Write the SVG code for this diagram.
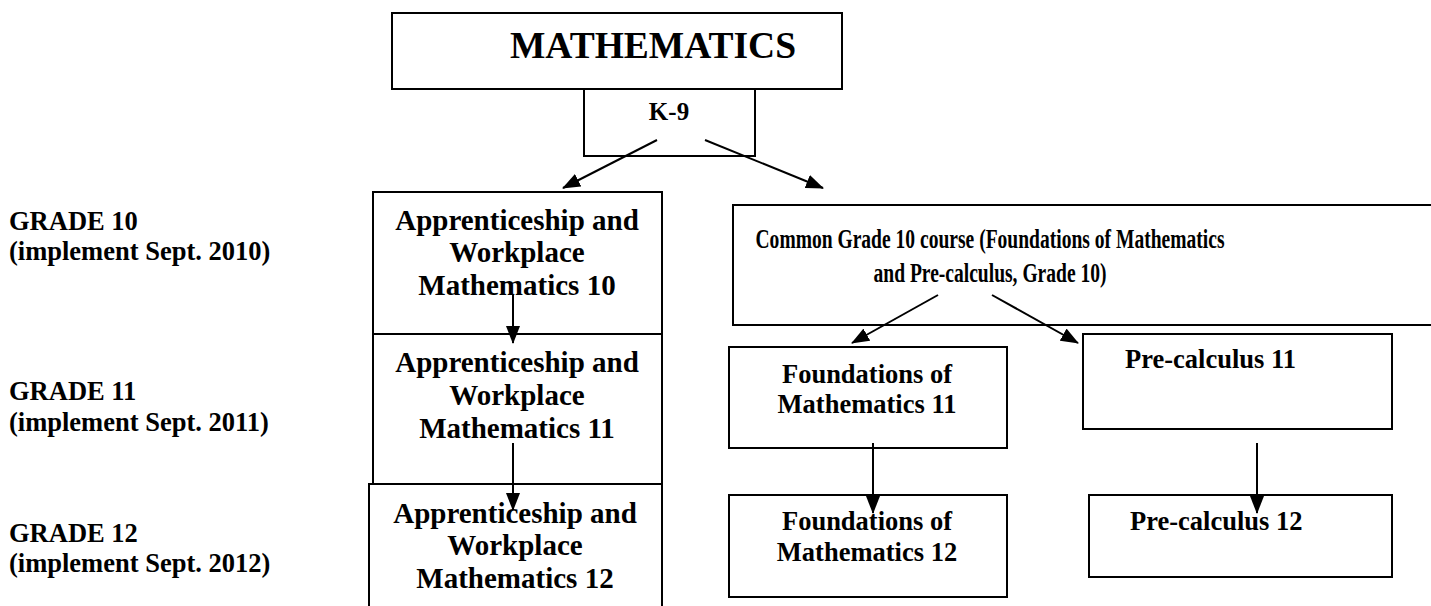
<svg xmlns="http://www.w3.org/2000/svg" width="1431" height="606" viewBox="0 0 1431 606">
<defs>
<style>
.box{fill:#fff;stroke:#000;stroke-width:2}
.t{font-family:'Liberation Serif','Times New Roman',serif;font-weight:700;fill:#000}
.c{text-anchor:middle}
.lbl{font-size:26.5px}
.ap{font-size:29px}
.fd{font-size:26.5px}
.conn line{stroke:#000;stroke-width:2;marker-end:url(#ah)}
</style>
<marker id="ah" markerWidth="18" markerHeight="14" refX="17" refY="7" orient="auto" markerUnits="userSpaceOnUse">
<path d="M0,0 L18,7 L0,14 Z" fill="#000"/>
</marker>
</defs>
<rect width="1431" height="606" fill="#fff"/>
<g class="t">
<g id="grade10-label"><text class="lbl" x="9" y="230">GRADE 10</text><text class="lbl" x="9" y="260">(implement Sept. 2010)</text></g>
<g id="grade11-label"><text class="lbl" x="9" y="400">GRADE 11</text><text class="lbl" x="9" y="431">(implement Sept. 2011)</text></g>
<g id="grade12-label"><text class="lbl" x="9" y="542">GRADE 12</text><text class="lbl" x="9" y="572">(implement Sept. 2012)</text></g>

<g id="mathematics"><rect class="box" x="392" y="13" width="450" height="76"/><text class="c" x="653" y="58" font-size="37.5">MATHEMATICS</text></g>
<g id="k9"><rect class="box" x="584" y="89" width="171" height="67"/><text class="c" x="669" y="120" font-size="25">K-9</text></g>

<g id="aw10"><rect class="box" x="373" y="192" width="289" height="142"/>
<text class="c ap" x="517" y="230">Apprenticeship and</text><text class="c ap" x="517" y="262">Workplace</text><text class="c ap" x="517" y="295">Mathematics 10</text></g>
<g id="aw11"><rect class="box" x="373" y="334" width="289" height="150"/>
<text class="c ap" x="517" y="372">Apprenticeship and</text><text class="c ap" x="517" y="405">Workplace</text><text class="c ap" x="517" y="438">Mathematics 11</text></g>
<g id="aw12"><rect class="box" x="369" y="484" width="293" height="130"/>
<text class="c ap" x="515" y="523">Apprenticeship and</text><text class="c ap" x="515" y="555">Workplace</text><text class="c ap" x="515" y="588">Mathematics 12</text></g>

<g id="common10"><rect class="box" x="733" y="205" width="710" height="120"/>
<text class="c" x="990" y="248" font-size="27" textLength="469" lengthAdjust="spacingAndGlyphs">Common Grade 10 course (Foundations of Mathematics</text>
<text class="c" x="990" y="282" font-size="27" textLength="233" lengthAdjust="spacingAndGlyphs">and Pre-calculus, Grade 10)</text></g>

<g id="fm11"><rect class="box" x="729" y="347" width="278" height="101"/>
<text class="c fd" x="867" y="383">Foundations of</text><text class="c fd" x="867" y="413">Mathematics 11</text></g>
<g id="fm12"><rect class="box" x="729" y="495" width="278" height="102"/>
<text class="c fd" x="867" y="530">Foundations of</text><text class="c fd" x="867" y="561">Mathematics 12</text></g>

<g id="pc11"><rect class="box" x="1083" y="334" width="309" height="95"/>
<text class="fd" x="1125" y="368">Pre-calculus 11</text></g>
<g id="pc12"><rect class="box" x="1089" y="495" width="303" height="82"/>
<text class="fd" x="1130" y="530">Pre-calculus 12</text></g>
</g>
<g id="connectors" class="conn">
<line x1="657" y1="140" x2="563" y2="188"/>
<line x1="705" y1="140" x2="823" y2="188"/>
<line x1="513" y1="295" x2="513" y2="343"/>
<line x1="513" y1="443" x2="513" y2="510"/>
<line x1="938" y1="295" x2="852" y2="343"/>
<line x1="992" y1="295" x2="1078" y2="343"/>
<line x1="873" y1="443" x2="873" y2="513"/>
<line x1="1257" y1="443" x2="1257" y2="513"/>
</g>
</svg>
